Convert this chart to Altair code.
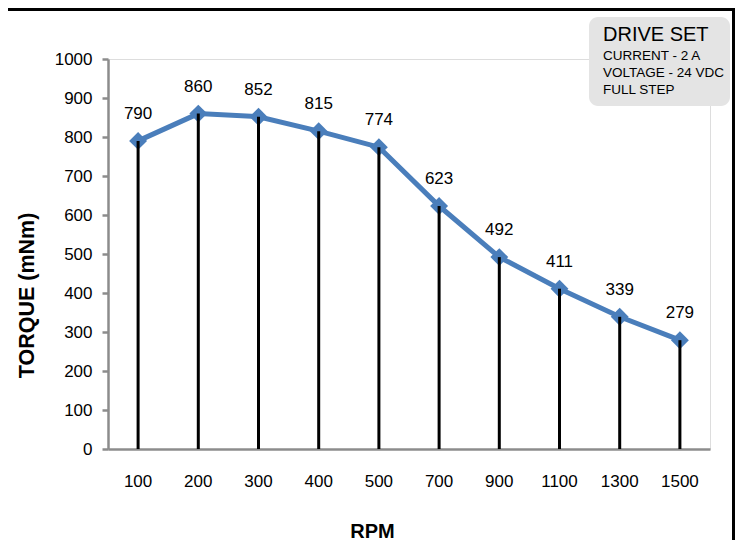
import altair as alt
import pandas as pd

rpm = [100, 200, 300, 400, 500, 700, 900, 1100, 1300, 1500]
torque = [790, 860, 852, 815, 774, 623, 492, 411, 339, 279]
box_title = "DRIVE SET"
box_lines = ["CURRENT - 2 A", "VOLTAGE - 24 VDC", "FULL STEP"]

df = pd.DataFrame({"rpm": rpm, "torque": torque})

FONT = "Liberation Sans"
BLUE = "#4a7ebb"

x = alt.X("rpm:O", sort=rpm,
          scale=alt.Scale(type="band", paddingInner=0, paddingOuter=0),
          axis=alt.Axis(title="RPM", labelAngle=0, ticks=False, tickSize=0,
                        labelPadding=24, labelFont=FONT, labelFontSize=17,
                        labelColor="#000", domainColor="#8c8c8c", domainWidth=2.5,
                        titleFont=FONT, titleFontSize=20, titleFontWeight="bold",
                        titleColor="#000", titleX=264, titleY=88,
                        titleAlign="center", titleBaseline="alphabetic"))
y = alt.Y("torque:Q", scale=alt.Scale(domain=[0, 1000], nice=False),
          axis=alt.Axis(title="TORQUE (mNm)", values=list(range(0, 1001, 100)),
                        format="d", grid=False, tickSize=6, tickWidth=2.5,
                        tickColor="#8c8c8c", domainColor="#8c8c8c", domainWidth=2.5,
                        labelPadding=10, labelFont=FONT, labelFontSize=17,
                        labelColor="#000",
                        titleFont=FONT, titleFontSize=21.5, titleFontWeight="bold",
                        titleColor="#000", titleX=-75, titleY=236, titleAngle=-90,
                        titleAlign="center", titleBaseline="alphabetic"))

base = alt.Chart(df)
line = base.mark_line(color=BLUE, strokeWidth=5).encode(x=x, y=y)
pts = base.mark_point(shape="diamond", filled=True, size=320, color=BLUE,
                      opacity=1).encode(x=x, y=y)
rules = base.mark_rule(color="#000", strokeWidth=3).encode(x=x, y=y, y2=alt.datum(0))
labels = base.mark_text(font=FONT, fontSize=17, color="#000", dy=-22,
                        baseline="alphabetic").encode(x=x, y=y, text="torque:Q")

one = pd.DataFrame({"a": [0]})
box = alt.Chart(one).mark_rect(fill="#e4e4e4", cornerRadius=9).encode(
    x=alt.value(481), x2=alt.value(622), y=alt.value(-42), y2=alt.value(47))
t_title = alt.Chart(pd.DataFrame({"t": [box_title]})).mark_text(
    font=FONT, fontSize=20, align="left", baseline="alphabetic", color="#000").encode(
    x=alt.value(495), y=alt.value(-18), text="t:N")
t_lines = [alt.Chart(pd.DataFrame({"t": [s]})).mark_text(
    font=FONT, fontSize=13.5, align="left", baseline="alphabetic", color="#000").encode(
    x=alt.value(495), y=alt.value(yy), text="t:N")
    for s, yy in zip(box_lines, [1, 18, 35])]

top_border = alt.Chart(one).mark_rule(color="#000", strokeWidth=3).encode(
    x=alt.value(-100), x2=alt.value(627), y=alt.value(-49.5))
right_border = alt.Chart(one).mark_rule(color="#000", strokeWidth=3).encode(
    x=alt.value(625.5), y=alt.value(-51), y2=alt.value(482))

chart = alt.layer(line, pts, rules, labels, box, t_title, *t_lines,
                  top_border, right_border).properties(
    width=602, height=390,
    autosize=alt.AutoSizeParams(type="none"),
    padding={"left": 100, "top": 51, "right": 25, "bottom": 91},
).configure_view(stroke=None).configure(background="white")

chart.save("out.html", embed_options={"renderer": "svg", "actions": False})
